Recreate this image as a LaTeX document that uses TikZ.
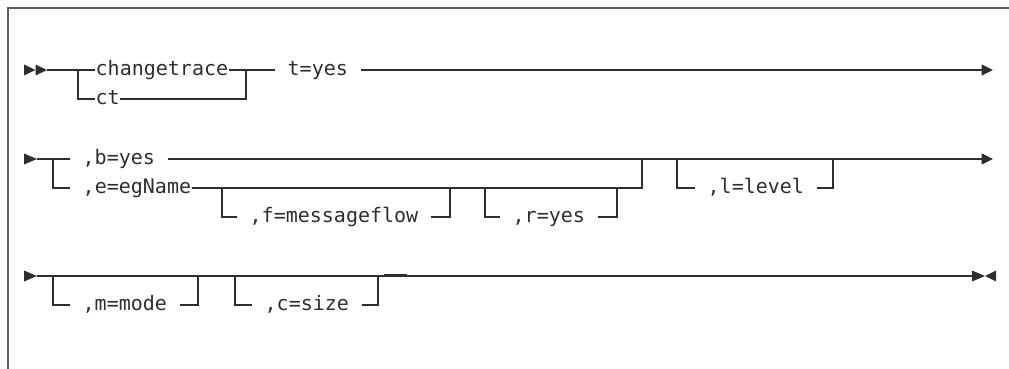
\documentclass[tikz,border=0pt]{standalone}
\usepackage{fontspec}
\usepackage{xcolor}
\usepackage{tikz}
\usetikzlibrary{arrows.meta}
\newfontfamily\railfont{DejaVu Sans Mono}
\definecolor{railc}{HTML}{2E2E2E}
\definecolor{framec}{HTML}{5A5A5A}

\begin{document}
\railfont\fontsize{20}{24}\selectfont
\begin{tikzpicture}[x=1pt, y=-1pt,
  rail/.style={draw=railc, line width=1.2pt},
  kw/.style={font=\railfont\fontsize{20}{24}\selectfont, text=railc, inner xsep=0.5pt, inner ysep=0pt, anchor=mid west},
  kwsp/.style={kw, inner xsep=12.5pt},
  endtip/.style={-{Triangle[length=11.5pt,width=11pt]}}]
  \useasboundingbox (0,0) rectangle (1009,369);
  \draw[draw=framec, line width=1.6pt] (8,369) -- (8,8) -- (1009,8);

  % row 1
  \coordinate (r1a) at (47,70);
  \coordinate (j1a) at (78,70);
  \coordinate (j1b) at (246,70);
  \coordinate (r1z) at (993,70);
  \node (chg) [kw] at (95,70) {changetrace};
  \node (ct) [kw] at (95,99) {ct};
  \node (tyes) [kwsp] at (275,70) {t=yes};
  \fill[railc] (24,64.5) -- (35.5,70) -- (24,75.5) -- cycle;
  \fill[railc] (35.5,64.5) -- (47,70) -- (35.5,75.5) -- cycle;
  \draw[rail] (r1a) -- (j1a) -- (chg.mid west);
  \draw[rail] (j1a) |- (ct.mid west);
  \draw[rail] (chg.mid east) -- (j1b) -- (tyes.mid west);
  \draw[rail] (ct.mid east) -| (j1b);
  \draw[rail, endtip] (tyes.mid east) -- (r1z);

  % row 2
  \coordinate (r2a) at (37,159);
  \coordinate (j2a) at (53,159);
  \coordinate (j2b) at (642,188);
  \coordinate (j2c) at (642,159);
  \coordinate (jf1) at (222,188);
  \coordinate (jf2) at (450,188);
  \coordinate (jr1) at (485,188);
  \coordinate (jr2) at (617,188);
  \coordinate (jl1) at (677,159);
  \coordinate (jl2) at (833,159);
  \coordinate (r2z) at (993,159);
  \node (byes) [kwsp] at (70,159) {,b=yes};
  \node (egn) [kw] at (70,188) {~,e=egName};
  \node (fmf) [kwsp] at (237,217) {,f=messageflow};
  \node (ryes) [kwsp] at (500,217) {,r=yes};
  \node (lvl) [kwsp] at (695,188) {,l=level};
  \fill[railc] (24,153.5) -- (37,159) -- (24,164.5) -- cycle;
  \draw[rail] (r2a) -- (j2a) -- (byes.mid west);
  \draw[rail, endtip] (byes.mid east) -- (r2z);
  \draw[rail] (j2a) |- (egn.mid west);
  \draw[rail] (egn.mid east) -- (j2b) -- (j2c);
  \draw[rail] (jf1) |- (fmf.mid west);
  \draw[rail] (fmf.mid east) -| (jf2);
  \draw[rail] (jr1) |- (ryes.mid west);
  \draw[rail] (ryes.mid east) -| (jr2);
  \draw[rail] (jl1) |- (lvl.mid west);
  \draw[rail] (lvl.mid east) -| (jl2);

  % row 3
  \coordinate (r3a) at (37,276);
  \coordinate (jm1) at (53,276);
  \coordinate (jm2) at (198,276);
  \coordinate (jc1) at (235,276);
  \coordinate (jc2) at (378,276);
  \coordinate (r3z) at (972,276);
  \node (mmode) [kwsp] at (70,305) {,m=mode};
  \node (csize) [kwsp] at (252,305) {,c=size};
  \fill[railc] (24,270.5) -- (37,276) -- (24,281.5) -- cycle;
  \draw[rail] (r3a) -- (r3z);
  \draw[rail] (jm1) |- (mmode.mid west);
  \draw[rail] (mmode.mid east) -| (jm2);
  \draw[rail] (jc1) |- (csize.mid west);
  \draw[rail] (csize.mid east) -| (jc2);
  \draw[rail, line width=2.2pt] (384,275.2) -- (407,275.2);
  \fill[railc] (972,270.5) -- (985,276) -- (972,281.5) -- cycle;
  \fill[railc] (996,270.5) -- (985,276) -- (996,281.5) -- cycle;
\end{tikzpicture}
\end{document}
